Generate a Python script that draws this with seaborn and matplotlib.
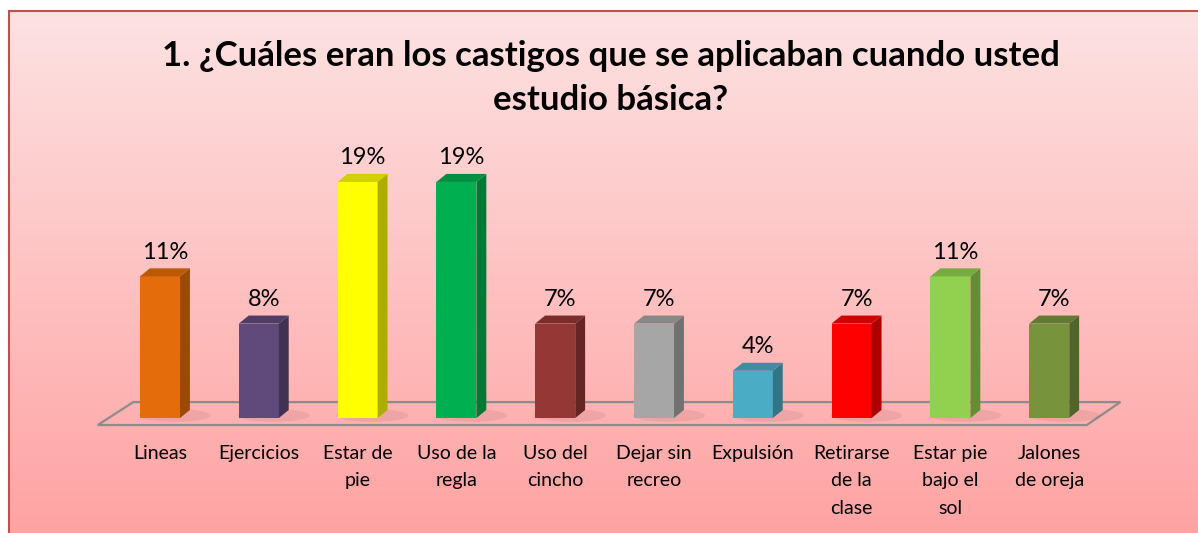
#import libraries
import numpy as np
import pandas as pd
import seaborn as sns
import matplotlib.pyplot as plt
from matplotlib.patches import Polygon, Rectangle, Ellipse
from matplotlib.colors import to_rgb, LinearSegmentedColormap

#data
categorias = ['Lineas', 'Ejercicios', 'Estar de\npie', 'Uso de la\nregla', 'Uso del\ncincho',
              'Dejar sin\nrecreo', 'Expulsión', 'Retirarse\nde la\nclase', 'Estar pie\nbajo el\nsol',
              'Jalones\nde oreja']
valores = [11.1, 7.4, 18.5, 18.5, 7.4, 7.4, 3.7, 7.4, 11.1, 7.4]
etiquetas = ['11%', '8%', '19%', '19%', '7%', '7%', '4%', '7%', '11%', '7%']
colores = ['#e46c0a', '#604a7b', '#ffff00', '#00b050', '#953735',
           '#a6a6a6', '#4bacc6', '#ff0000', '#92d050', '#77933c']
titulo = '1. ¿Cuáles eran los castigos que se aplicaban cuando usted\nestudio básica?'

df = pd.DataFrame({'castigo': categorias, 'porcentaje': valores})

sns.set_style('white')
plt.rcParams['font.family'] = ['Lato', 'DejaVu Sans']

fig = plt.figure(figsize=(11.98, 5.33), dpi=100)

#background gradient + frame
bg = fig.add_axes([9 / 1198, 0, 1, 1 - 11 / 533], zorder=0)
cmap = LinearSegmentedColormap.from_list('rosa', ['#fde2e2', '#ffa3a3'])
bg.imshow(np.linspace(0, 1, 256).reshape(-1, 1), aspect='auto', cmap=cmap, extent=[0, 1, 0, 1])
bg.set_axis_off()
fig.patches.append(Rectangle((9 / 1198, -0.1), 1.2, 1.1 - 11 / 533, transform=fig.transFigure,
                             fill=False, edgecolor='#c0504d', linewidth=1.5, zorder=5))

#main axes
ax = fig.add_axes([0.0511, 0.1918, 0.9072, 0.5985], zorder=1)
ax.set_facecolor('none')
sns.barplot(data=df, x='castigo', y='porcentaje', hue='castigo', palette=colores,
            width=0.405, legend=False, ax=ax, zorder=3, saturation=1, linewidth=0)
ax.set_xlim(-1, 10)
ax.set_ylim(-1, 24)

#floor
floor = Polygon([(-0.63, -0.55), (9.38, -0.55), (9.72, 1.25), (-0.27, 1.25)], closed=True,
                facecolor='none', edgecolor='#8c8c8c', linewidth=1.6, zorder=1)
ax.add_patch(floor)

#3d faces
dx, dy = 0.1, 0.63
for bar, col, lab in zip(ax.patches[:len(valores)], colores, etiquetas):
    x0, w, h = bar.get_x(), bar.get_width(), bar.get_height()
    c = np.array(to_rgb(col))
    ax.add_patch(Ellipse((x0 + w / 2 + 0.15, 0.2), w * 1.8, 1.0, facecolor='#4a1a1a', alpha=0.08,
                         edgecolor='none', zorder=2))
    ax.add_patch(Polygon([(x0 + w, 0), (x0 + w + dx, dy), (x0 + w + dx, h + dy), (x0 + w, h)],
                         facecolor=c * 0.68, edgecolor='none', zorder=3))
    ax.add_patch(Polygon([(x0, h), (x0 + dx, h + dy), (x0 + w + dx, h + dy), (x0 + w, h)],
                         facecolor=c * 0.82, edgecolor='none', zorder=3))
    ax.annotate(lab, (x0 + w / 2 + dx / 2, h + dy), xytext=(0, 7), textcoords='offset points',
                ha='center', va='baseline', fontsize=17, color='black')

ax.set_xlabel('')
ax.set_ylabel('')
ax.set_yticks([])
ax.tick_params(axis='x', length=0, pad=10, labelsize=14, labelcolor='black')
plt.setp(ax.get_xticklabels(), linespacing=1.75)
sns.despine(ax=ax, left=True, bottom=True)

fig.text(611 / 1198, 1 - 78 / 533, titulo, ha='center', va='center', fontsize=25,
         fontweight='bold', linespacing=1.45, color='black')

fig.savefig('out.png', dpi=100)
